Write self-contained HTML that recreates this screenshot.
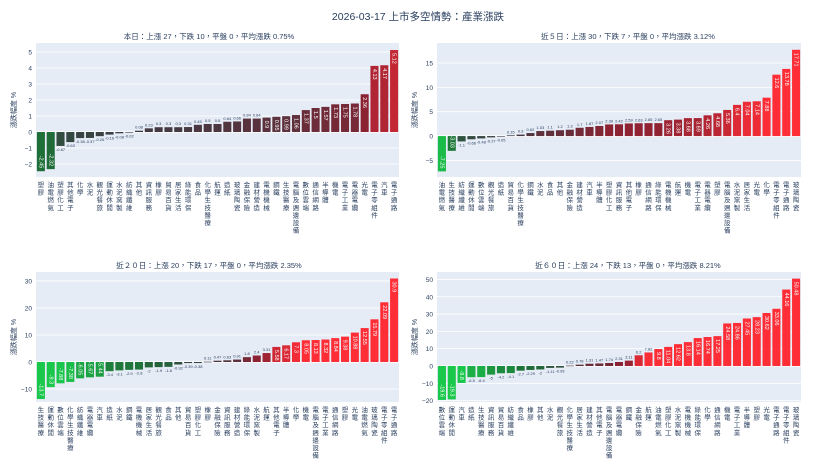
<!DOCTYPE html>
<html><head><meta charset="utf-8">
<style>
html,body{margin:0;padding:0;background:#fff;}
svg{display:block;font-family:"Liberation Sans","Noto Sans CJK TC",sans-serif;}
</style></head>
<body>
<svg id="chart" width="836" height="470" viewBox="0 0 836 470">
<text x="418" y="20" text-anchor="middle" font-size="10.5" fill="#2a3f5f">2026-03-17 上市多空情勢：產業漲跌</text>
</svg>
<script>
const cats1 = ["塑膠","油電燃氣","塑膠化工","其他電子","化學","水泥","觀光餐旅","運動休閒","水泥窯製","紡織纖維","其他","資訊服務","橡膠","貿易百貨","居家生活","綠能環保","食品","化學生技醫療","航運","造紙","玻璃陶瓷","金融保險","建材營造","電機機械","鋼鐵","生技醫療","電腦及週邊設備","數位雲端","通信網路","半導體","機電","電子工業","電器電纜","光電","電子零組件","汽車","電子通路"];
const vals1 = [-2.45,-2.32,-0.87,-0.63,-0.38,-0.37,-0.26,-0.16,-0.08,-0.02,0.08,0.23,0.3,0.3,0.3,0.31,0.45,0.5,0.5,0.64,0.66,0.84,0.84,0.9,0.95,0.99,1.06,1.37,1.5,1.57,1.73,1.75,1.78,2.36,4.13,4.17,5.12];
const cats2 = ["油電燃氣","生技醫療","紡織纖維","運動休閒","數位雲端","觀光餐旅","造紙","貿易百貨","化學生技醫療","鋼鐵","水泥","食品","其他","金融保險","建材營造","汽車","半導體","塑膠化工","資訊服務","其他電子","橡膠","通信網路","綠能環保","電機機械","航運","機電","電子工業","電器電纜","塑膠","電腦及週邊設備","水泥窯製","居家生活","光電","化學","電子零組件","電子通路","玻璃陶瓷"];
const vals2 = [-7.25,-3.03,-1.1,-0.66,-0.48,-0.27,-0.05,0.15,0.3,0.62,1.03,1.1,1.2,1.3,1.7,1.87,2.07,2.39,2.42,2.59,2.63,2.65,2.65,3.26,3.38,3.68,3.69,4.26,4.68,5.36,6.4,7.04,7.14,7.88,12.6,13.78,17.71];
const cats3 = ["生技醫療","運動休閒","數位雲端","化學生技醫療","紡織纖維","電器電纜","汽車","造紙","水泥","鋼鐵","電機機械","居家生活","觀光餐旅","食品","其他","貿易百貨","塑膠化工","橡膠","金融保險","資訊服務","建材營造","綠能環保","水泥窯製","航運","其他電子","半導體","化學","機電","電腦及週邊設備","電子工業","通信網路","塑膠","光電","油電燃氣","玻璃陶瓷","電子零組件","電子通路"];
const vals3 = [-13.7,-9.3,-7.88,-7.38,-6.05,-5.67,-5.44,-3.4,-3.1,-2.9,-2.8,-2.0,-1.9,-1.8,-0.92,-0.39,-0.38,0.11,0.47,0.63,0.91,1.8,2.4,3.31,5.58,6.17,7.3,8.05,8.13,8.32,8.84,9.38,10.88,12.55,15.79,22.09,30.9];
const cats4 = ["數位雲端","運動休閒","汽車","造紙","生技醫療","資訊服務","貿易百貨","紡織纖維","食品","橡膠","其他","水泥","觀光餐旅","化學生技醫療","居家生活","建材營造","其他電子","電腦及週邊設備","電器電纜","鋼鐵","金融保險","航運","油電燃氣","塑膠化工","水泥窯製","電機機械","綠能環保","化學","通信網路","機電","電子工業","半導體","塑膠","光電","電子通路","電子零組件","玻璃陶瓷"];
const vals4 = [-19.6,-19.3,-9.8,-6.5,-6.4,-5.0,-4.2,-4.1,-2.7,-2.29,-2,-1.11,-0.93,0.22,0.78,1.31,1.47,1.74,2.31,3.11,6.2,7.82,9.8,11.04,12.62,13.8,16.14,16.74,17.25,24.58,24.86,27.45,28.23,30.62,33.06,44.16,50.48];
const titles = ["本日：上漲 27，下跌 10，平盤 0，平均漲跌 0.75%","近５日：上漲 30，下跌 7，平盤 0，平均漲跌 3.12%","近２０日：上漲 20，下跌 17，平盤 0，平均漲跌 2.35%","近６０日：上漲 24，下跌 13，平盤 0，平均漲跌 8.21%"];
const ticks1=[-2,-1,0,1,2,3,4,5], ticks2=[-5,0,5,10,15], ticks3=[-10,0,10,20,30], ticks4=[-20,-10,0,10,20,30,40,50];
const ranges=[[-2.81,5.56],[-8.4,19.1],[-14.8,33.3],[-20.8,54.3]];

const NS="http://www.w3.org/2000/svg";
const svg=document.getElementById('chart');
function mk(t,a,p){const e=document.createElementNS(NS,t);for(const k in a)e.setAttribute(k,a[k]);(p||svg).appendChild(e);return e;}
function lerp(a,b,t){return a.map((x,i)=>Math.round(x+(b[i]-x)*t));}
function color(v){
  const g0=[60,60,68];
  const t=Math.min(Math.abs(v)/8,1);
  let c;
  if(v>=0){ c = t<0.3? lerp(g0,[139,34,50],t/0.3) : lerp([139,34,50],[255,45,54],(t-0.3)/0.7);}
  else { c = t<0.3? lerp(g0,[31,110,56],t/0.3) : lerp([31,110,56],[25,199,74],(t-0.3)/0.7);}
  return `rgb(${c[0]},${c[1]},${c[2]})`;
}
const panels=[
 {cats:cats1,vals:vals1,ticks:ticks1,x0:36,x1:399,y0:43,y1:177,tx:209},
 {cats:cats2,vals:vals2,ticks:ticks2,x0:437,x1:801,y0:43,y1:177,tx:628},
 {cats:cats3,vals:vals3,ticks:ticks3,x0:36,x1:399,y0:272,y1:402,tx:209},
 {cats:cats4,vals:vals4,ticks:ticks4,x0:437,x1:801,y0:272,y1:402,tx:628}];
panels.forEach((p,pi)=>{
  const g=mk('g',{});
  
  
  const [lo,hi]=ranges[pi];
  const y=v=>p.y1-(v-lo)/(hi-lo)*(p.y1-p.y0);
  const n=p.cats.length, slot=(p.x1-p.x0)/n;
  const bg=mk('rect',{x:p.x0,y:p.y0,width:p.x1-p.x0,height:p.y1-p.y0,fill:'#e5ecf6'},g);
  
  
  const tt=mk('text',{x:p.tx,y:p.y0-4,'text-anchor':'middle','font-size':'7.5',fill:'#2a3f5f'},g);
  tt.textContent=titles[pi];
  
  
  p.ticks.forEach(t=>{
    const yy=y(t);
    const gl=mk('line',{x1:p.x0,x2:p.x1,y1:yy,y2:yy,stroke:'#fff','stroke-width':t===0?1.5:0.8},g);
    
    
    const tl=mk('text',{x:p.x0-4,y:yy+2.5,'text-anchor':'end','font-size':'6.5',fill:'#2a3f5f'},g);
    tl.textContent=t<0?'−'+(-t):String(t);
    
    
  });
  const yt=mk('text',{x:p.x0-20,y:(p.y0+p.y1)/2,'text-anchor':'middle','font-size':'7',fill:'#2a3f5f',transform:`rotate(-90 ${p.x0-20} ${(p.y0+p.y1)/2})`},g);
  yt.textContent='漲跌幅度 %';
  
  
  p.cats.forEach((c,i)=>{
    const v=p.vals[i];
    const cx=p.x0+slot*(i+0.5), bw=slot*0.82;
    const ya=y(Math.max(v,0)), yb=y(Math.min(v,0));
    const r=mk('rect',{x:cx-bw/2,y:ya,width:bw,height:Math.max(yb-ya,0.6),fill:color(v)},g);
    
    
    const h=yb-ya;
    const lab=String(v);
    if(h>14){
      const ly=v>=0?ya+3:yb-3;
      const lt=mk('text',{x:cx,y:ly,'font-size':'5.5',fill:'#fff','text-anchor':v>=0?'start':'end',transform:`rotate(90 ${cx} ${ly})`,'dominant-baseline':'middle'},g);
      lt.textContent=lab;
      
      
    } else {
      const ly=v>=0?ya-2:yb+5;
      const lt=mk('text',{x:cx,y:ly,'font-size':'4','text-anchor':'middle',fill:'#2a3f5f'},g);
      lt.textContent=lab;
      
      
    }
    const xl=mk('text',{'font-size':'6.5',fill:'#2a3f5f','text-anchor':'middle'},g);
    
    
    [...c].forEach((ch,k)=>{
      const ts=mk('tspan',{x:cx,y:p.y1+10+k*7.6},xl);
      ts.textContent=ch;
    });
  });
});
</script>
</body></html>
